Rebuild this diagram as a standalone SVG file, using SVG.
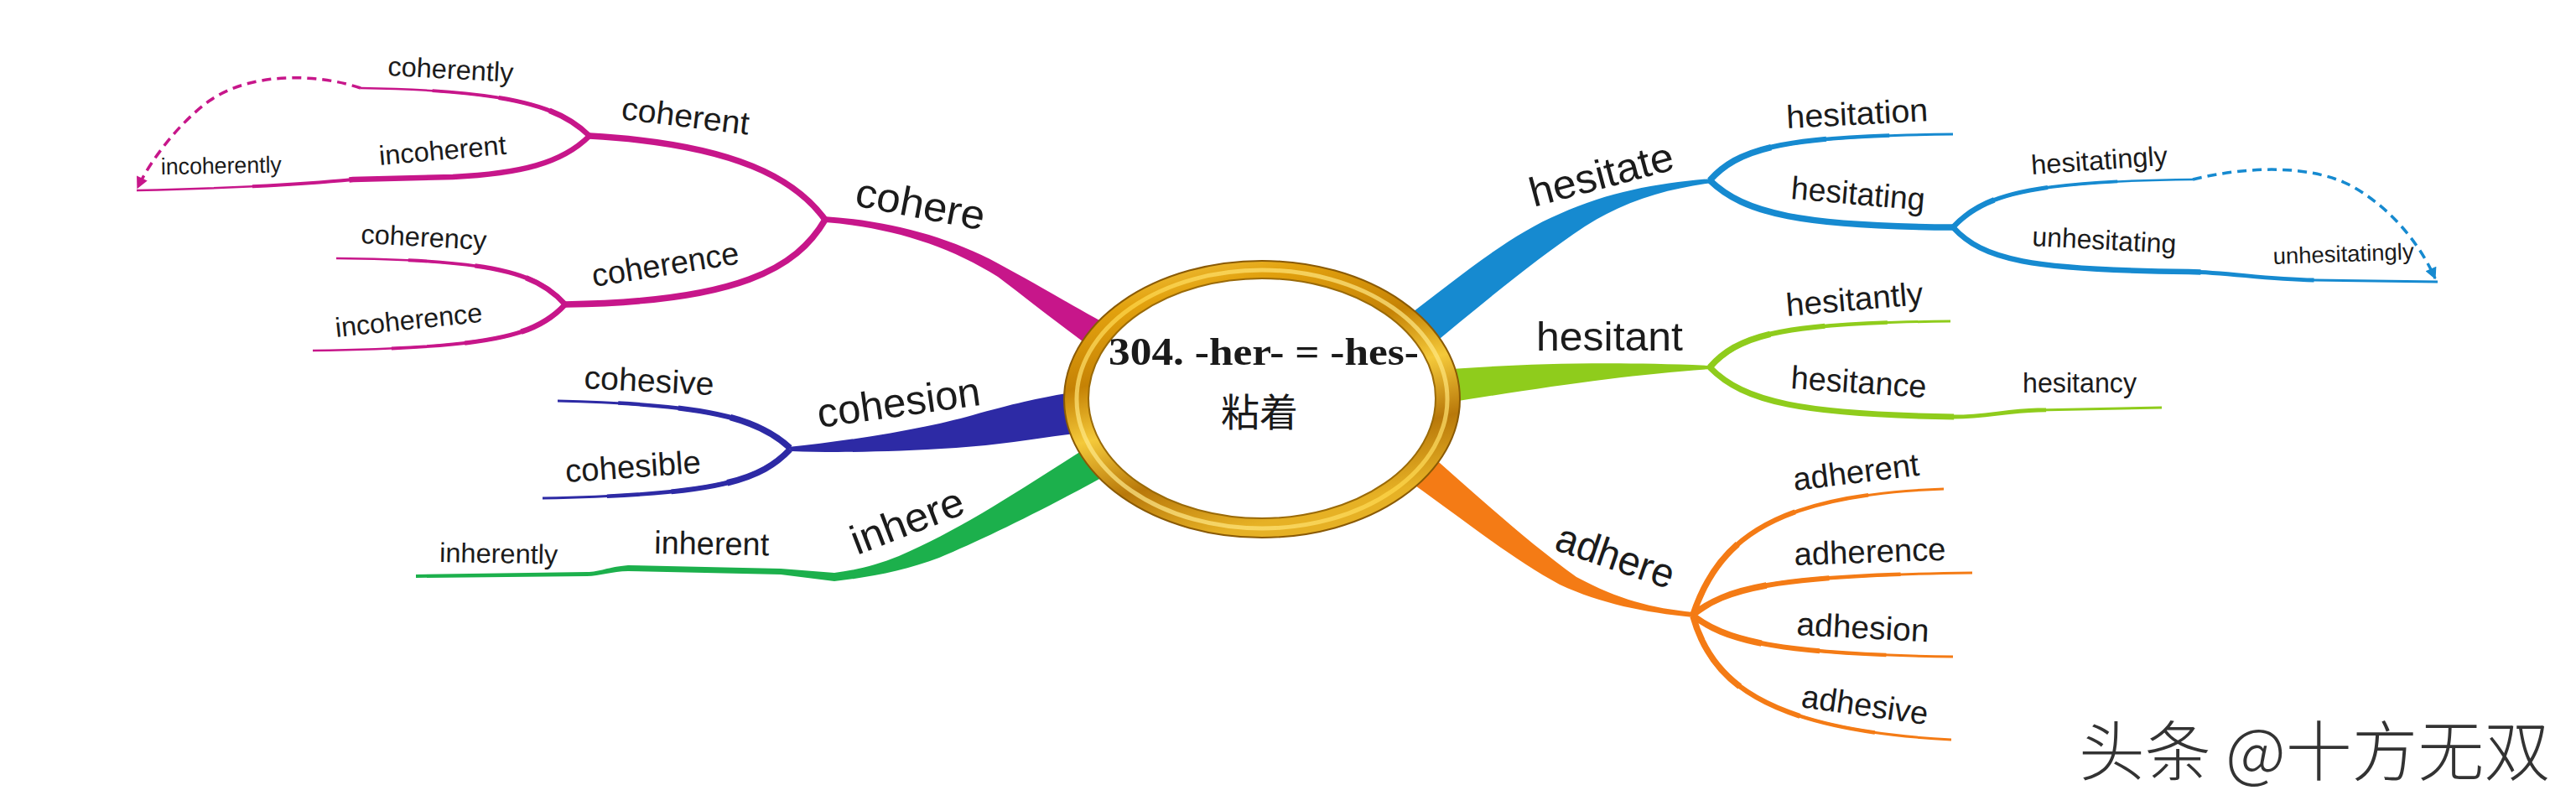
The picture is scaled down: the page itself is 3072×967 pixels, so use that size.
<svg xmlns="http://www.w3.org/2000/svg" width="3072" height="967" viewBox="0 0 3072 967">
<style>
  text{font-family:"Liberation Sans",Arial,sans-serif;fill:#1b1b1b}
  .l1{font-size:49px}
  .l2{font-size:38.5px}
  .l3{font-size:32.5px}
  .l4{font-size:27.5px}
  .t1{stroke-width:3}
  .t2{stroke-width:4.5;stroke-dasharray:75 1000}
  .t3{stroke-width:6;stroke-dasharray:50 1000}
  .t4{stroke-width:7.5;stroke-dasharray:28 1000}
  .s1{stroke-width:2.5}
  .s2{stroke-width:3.8;stroke-dasharray:70 1000}
  .s3{stroke-width:5.2;stroke-dasharray:42 1000}
  .s4{stroke-width:6.5;stroke-dasharray:20 1000}
  .u{stroke-width:7.5}
  .cm{stroke:#C7168A} .fm{fill:#C7168A}
  .cb{stroke:#2D2AA5} .fb{fill:#2D2AA5}
  .fg{fill:#1CB04C}
  .cs{stroke:#168AD0} .fs{fill:#168AD0}
  .cl{stroke:#8FCC1C} .fl{fill:#8FCC1C}
  .co{stroke:#F47B15} .fo{fill:#F47B15}
  .dash{fill:none;stroke-width:3.5;stroke-dasharray:11 7}
</style>
<defs>
  <linearGradient id="gold" x1="0" y1="0" x2="0.35" y2="1">
    <stop offset="0" stop-color="#f7d55a"/>
    <stop offset="0.2" stop-color="#e2a10e"/>
    <stop offset="0.42" stop-color="#c58205"/>
    <stop offset="0.6" stop-color="#f4c93a"/>
    <stop offset="0.8" stop-color="#b8780a"/>
    <stop offset="1" stop-color="#e6b125"/>
  </linearGradient>
  <linearGradient id="gold2" x1="0" y1="1" x2="1" y2="0">
    <stop offset="0" stop-color="#fff2a8"/>
    <stop offset="0.5" stop-color="#ffd84a"/>
    <stop offset="1" stop-color="#fff0a0"/>
  </linearGradient>
  <marker id="am" viewBox="0 0 10 10" refX="9" refY="5" markerWidth="18" markerHeight="14" markerUnits="userSpaceOnUse" orient="auto">
    <path d="M0,0 L10,5 L0,10 z" fill="#C7168A"/>
  </marker>
  <marker id="ab" viewBox="0 0 10 10" refX="9" refY="5" markerWidth="18" markerHeight="14" markerUnits="userSpaceOnUse" orient="auto">
    <path d="M0,0 L10,5 L0,10 z" fill="#168AD0"/>
  </marker>
  <path id="p-coherent" pathLength="100" fill="none" d="M984,262 C950,215 880,172 703,162"/>
  <path id="p-coherently" pathLength="100" fill="none" d="M703,162 C670,130 620,108 430,105"/>
  <path id="p-incoherent" pathLength="100" fill="none" d="M703,162 C670,195 620,207 540,211 L421,214 C380,218 300,224 163,227"/>
  <path id="p-coherence" pathLength="100" fill="none" d="M984,262 C950,320 880,360 674,363"/>
  <path id="p-coherency" pathLength="100" fill="none" d="M674,363 C640,325 590,310 401,308"/>
  <path id="p-incoherence" pathLength="100" fill="none" d="M674,363 C640,400 590,415 373,418"/>
  <path id="p-cohesive" pathLength="100" fill="none" d="M942,534 C905,500 850,482 665,478"/>
  <path id="p-cohesible" pathLength="100" fill="none" d="M942,536 C905,575 850,590 647,594"/>
  <path id="p-hesitation" pathLength="100" fill="none" d="M2039,215 C2075,175 2130,162 2329,160"/>
  <path id="p-hesitating" pathLength="100" fill="none" d="M2039,215 C2080,255 2150,270 2329,271"/>
  <path id="p-hesitatingly" pathLength="100" fill="none" d="M2329,271 C2365,232 2420,216 2615,214"/>
  <path id="p-unhesitating" pathLength="100" fill="none" d="M2329,271 C2365,310 2420,322 2610,324 C2660,325 2700,333 2760,334 L2907,336"/>
  <path id="p-hesitantly" pathLength="100" fill="none" d="M2039,438 C2075,397 2130,385 2326,383"/>
  <path id="p-hesitance" pathLength="100" fill="none" d="M2039,438 C2080,480 2150,494 2330,497 C2370,497 2390,490 2430,489 L2578,486"/>
  <path id="p-adherent" pathLength="100" fill="none" d="M2019,733 C2050,640 2120,590 2318,583"/>
  <path id="p-adherence" pathLength="100" fill="none" d="M2019,733 C2060,700 2120,686 2352,683"/>
  <path id="p-adhesion" pathLength="100" fill="none" d="M2019,734 C2060,765 2120,780 2329,783"/>
  <path id="p-adhesive" pathLength="100" fill="none" d="M2019,735 C2040,810 2100,870 2327,882"/>
</defs>

<rect width="3072" height="967" fill="#ffffff"/>

<g id="connectors">
  <!-- cohere -->
  <path class="fm" d="M982,258 C1060,263 1130,282 1190,314 S1290,372 1345,400 L1320,428 C1280,400 1240,368 1190,330 C1130,292 1060,271 984,265 Z"/>
  <g class="cm">
    <use href="#p-coherent" class="u"/>
    <use href="#p-coherence" class="u"/>
    <use href="#p-coherently" class="s1"/><use href="#p-coherently" class="s2"/><use href="#p-coherently" class="s3"/><use href="#p-coherently" class="s4"/>
    <use href="#p-incoherent" style="stroke-width:2.5"/><use href="#p-incoherent" style="stroke-width:4;stroke-dasharray:75 1000"/><use href="#p-incoherent" style="stroke-width:6.5;stroke-dasharray:54 1000"/>
    <use href="#p-coherency" class="s1"/><use href="#p-coherency" class="s2"/><use href="#p-coherency" class="s3"/><use href="#p-coherency" class="s4"/>
    <use href="#p-incoherence" class="s1"/><use href="#p-incoherence" class="s2"/><use href="#p-incoherence" class="s3"/><use href="#p-incoherence" class="s4"/>
  </g>
  <path class="dash cm" marker-end="url(#am)" d="M430,105 C380,88 300,85 250,120 C215,145 180,190 164,224"/>
  <!-- cohesion -->
  <path class="fb" d="M940,533 C1010,526 1100,512 1160,495 S1260,470 1300,465 L1300,515 C1250,520 1200,530 1140,534 C1060,539 1000,540 944,538 Z"/>
  <g class="cb">
    <use href="#p-cohesive" class="t1"/><use href="#p-cohesive" class="t2"/><use href="#p-cohesive" class="t3"/><use href="#p-cohesive" class="t4"/>
    <use href="#p-cohesible" class="t1"/><use href="#p-cohesible" class="t2"/><use href="#p-cohesible" class="t3"/><use href="#p-cohesible" class="t4"/>
  </g>
  <!-- inhere -->
  <path class="fg" d="M1310,525 C1230,575 1150,630 1072,663 C1045,674 1020,680 995,683 L931,678 L749,674 C725,676 715,682 700,682 L496,685 L496,689 L700,687 C715,687 730,681 749,681 L931,685 L995,693 C1040,688 1080,680 1120,665 C1180,640 1260,600 1340,555 Z"/>
  <!-- hesitate -->
  <path class="fs" d="M1668,385 C1740,330 1800,280 1860,255 C1920,228 1980,218 2041,213 L2041,218 C1990,225 1940,238 1890,270 C1830,310 1770,360 1700,418 Z"/>
  <g class="cs">
    <use href="#p-hesitation" class="t1"/><use href="#p-hesitation" class="t2"/><use href="#p-hesitation" class="t3"/><use href="#p-hesitation" class="t4"/>
    <use href="#p-hesitating" class="u"/>
    <use href="#p-hesitatingly" class="s1"/><use href="#p-hesitatingly" class="s2"/><use href="#p-hesitatingly" class="s3"/><use href="#p-hesitatingly" class="s4"/>
    <use href="#p-unhesitating" style="stroke-width:3"/><use href="#p-unhesitating" style="stroke-width:4.8;stroke-dasharray:75 1000"/><use href="#p-unhesitating" style="stroke-width:6.5;stroke-dasharray:52 1000"/>
  </g>
  <path class="dash cs" marker-end="url(#ab)" d="M2615,214 C2680,198 2760,195 2810,225 C2860,255 2890,300 2904,332"/>
  <!-- hesitant -->
  <path class="fl" d="M1715,441 C1800,435 1900,430 2041,436 L2041,440 C1950,446 1850,460 1715,482 Z"/>
  <g class="cl">
    <use href="#p-hesitantly" class="t1"/><use href="#p-hesitantly" class="t2"/><use href="#p-hesitantly" class="t3"/><use href="#p-hesitantly" class="t4"/>
    <use href="#p-hesitance" style="stroke-width:3"/><use href="#p-hesitance" style="stroke-width:4.8;stroke-dasharray:75 1000"/><use href="#p-hesitance" style="stroke-width:7;stroke-dasharray:55 1000"/>
  </g>
  <!-- adhere -->
  <path class="fo" d="M1698,535 C1760,590 1820,645 1880,688 C1930,715 1970,725 2019,730 L2019,736 C1960,730 1910,720 1860,697 C1800,665 1740,615 1668,565 Z"/>
  <g class="co">
    <use href="#p-adherent" class="t1"/><use href="#p-adherent" class="t2"/><use href="#p-adherent" class="t3"/><use href="#p-adherent" class="t4"/>
    <use href="#p-adherence" class="t1"/><use href="#p-adherence" class="t2"/><use href="#p-adherence" class="t3"/><use href="#p-adherence" class="t4"/>
    <use href="#p-adhesion" class="t1"/><use href="#p-adhesion" class="t2"/><use href="#p-adhesion" class="t3"/><use href="#p-adhesion" class="t4"/>
    <use href="#p-adhesive" class="t1"/><use href="#p-adhesive" class="t2"/><use href="#p-adhesive" class="t3"/><use href="#p-adhesive" class="t4"/>
  </g>
</g>

<g id="center">
  <ellipse cx="1505" cy="476" rx="236" ry="165" fill="url(#gold)" stroke="#8a5a05" stroke-width="2"/>
  <ellipse cx="1505" cy="476" rx="221" ry="154" fill="none" stroke="url(#gold2)" stroke-width="5" opacity="0.7"/>
  <ellipse cx="1505" cy="475" rx="207" ry="143" fill="#ffffff" stroke="#9a6a08" stroke-width="2"/>
  <text x="1507" y="435" text-anchor="middle" textLength="370" lengthAdjust="spacingAndGlyphs" style="font-family:'Liberation Serif','Times New Roman',serif;font-weight:bold;font-size:46px;fill:#1a1a1a">304. -her- = -hes-</text>
  <text x="1502" y="508" text-anchor="middle" style="font-family:'Liberation Serif','Noto Sans CJK SC',serif;font-size:46px;fill:#1a1a1a">粘着</text>
</g>

<g id="n-cohere"><text class="l1" transform="translate(1018,245) rotate(11)" textLength="156" lengthAdjust="spacingAndGlyphs">cohere</text></g>
<g id="n-coherent"><text class="l2" transform="translate(740,142) rotate(7)" textLength="153" lengthAdjust="spacingAndGlyphs">coherent</text></g>
<g id="n-coherently"><text class="l3" transform="translate(462,90) rotate(3)" textLength="150" lengthAdjust="spacingAndGlyphs">coherently</text></g>
<g id="n-incoherent"><text class="l3" transform="translate(453,197) rotate(-5)" textLength="152" lengthAdjust="spacingAndGlyphs">incoherent</text></g>
<g id="n-incoherently"><text class="l4" transform="translate(192,208) rotate(-1)" textLength="144" lengthAdjust="spacingAndGlyphs">incoherently</text></g>
<g id="n-coherence"><text class="l2" transform="translate(708,342) rotate(-9)" textLength="177" lengthAdjust="spacingAndGlyphs">coherence</text></g>
<g id="n-coherency"><text class="l3" transform="translate(430,290) rotate(3)" textLength="150" lengthAdjust="spacingAndGlyphs">coherency</text></g>
<g id="n-incoherence"><text class="l3" transform="translate(401,402) rotate(-6)" textLength="176" lengthAdjust="spacingAndGlyphs">incoherence</text></g>
<g id="n-cohesion"><text class="l1" transform="translate(977,510) rotate(-8)" textLength="196" lengthAdjust="spacingAndGlyphs">cohesion</text></g>
<g id="n-cohesive"><text class="l2" transform="translate(696,463) rotate(3)" textLength="155" lengthAdjust="spacingAndGlyphs">cohesive</text></g>
<g id="n-cohesible"><text class="l2" transform="translate(675,575) rotate(-4)" textLength="162" lengthAdjust="spacingAndGlyphs">cohesible</text></g>
<g id="n-inhere"><text class="l1" transform="translate(1022,662) rotate(-21)" textLength="141" lengthAdjust="spacingAndGlyphs">inhere</text></g>
<g id="n-inherent"><text class="l2" transform="translate(780,660) rotate(1)" textLength="137" lengthAdjust="spacingAndGlyphs">inherent</text></g>
<g id="n-inherently"><text class="l3" transform="translate(524,670) rotate(1)" textLength="141" lengthAdjust="spacingAndGlyphs">inherently</text></g>

<g id="n-hesitate"><text class="l1" transform="translate(1829,247) rotate(-15)" textLength="176" lengthAdjust="spacingAndGlyphs">hesitate</text></g>
<g id="n-hesitation"><text class="l2" transform="translate(2131,153) rotate(-3)" textLength="169" lengthAdjust="spacingAndGlyphs">hesitation</text></g>
<g id="n-hesitating"><text class="l2" transform="translate(2135,237) rotate(5)" textLength="160" lengthAdjust="spacingAndGlyphs">hesitating</text></g>
<g id="n-hesitatingly"><text class="l3" transform="translate(2423,208) rotate(-4)" textLength="163" lengthAdjust="spacingAndGlyphs">hesitatingly</text></g>
<g id="n-unhesitating"><text class="l3" transform="translate(2423,293) rotate(3)" textLength="172" lengthAdjust="spacingAndGlyphs">unhesitating</text></g>
<g id="n-unhesitatingly"><text class="l4" transform="translate(2711,315) rotate(-2)" textLength="168" lengthAdjust="spacingAndGlyphs">unhesitatingly</text></g>
<g id="n-hesitant"><text class="l1" x="1832" y="418" textLength="175" lengthAdjust="spacingAndGlyphs">hesitant</text></g>
<g id="n-hesitantly"><text class="l2" transform="translate(2131,377) rotate(-5)" textLength="164" lengthAdjust="spacingAndGlyphs">hesitantly</text></g>
<g id="n-hesitance"><text class="l2" transform="translate(2135,463) rotate(4)" textLength="162" lengthAdjust="spacingAndGlyphs">hesitance</text></g>
<g id="n-hesitancy"><text class="l3" x="2412" y="468" textLength="136" lengthAdjust="spacingAndGlyphs">hesitancy</text></g>
<g id="n-adhere"><text class="l1" transform="translate(1852,655) rotate(19)" textLength="146" lengthAdjust="spacingAndGlyphs">adhere</text></g>
<g id="n-adherent"><text class="l2" transform="translate(2140,585) rotate(-7)" textLength="151" lengthAdjust="spacingAndGlyphs">adherent</text></g>
<g id="n-adherence"><text class="l2" transform="translate(2140,674) rotate(-2)" textLength="181" lengthAdjust="spacingAndGlyphs">adherence</text></g>
<g id="n-adhesion"><text class="l2" transform="translate(2142,757) rotate(3)" textLength="158" lengthAdjust="spacingAndGlyphs">adhesion</text></g>
<g id="n-adhesive"><text class="l2" transform="translate(2147,843) rotate(8)" textLength="152" lengthAdjust="spacingAndGlyphs">adhesive</text></g>

<g id="watermark"><text x="2479" y="925" textLength="562" lengthAdjust="spacingAndGlyphs" style="font-family:'Noto Sans CJK SC',sans-serif;font-weight:300;font-size:78px;fill:#333333">头条 @十方无双</text></g>
</svg>
